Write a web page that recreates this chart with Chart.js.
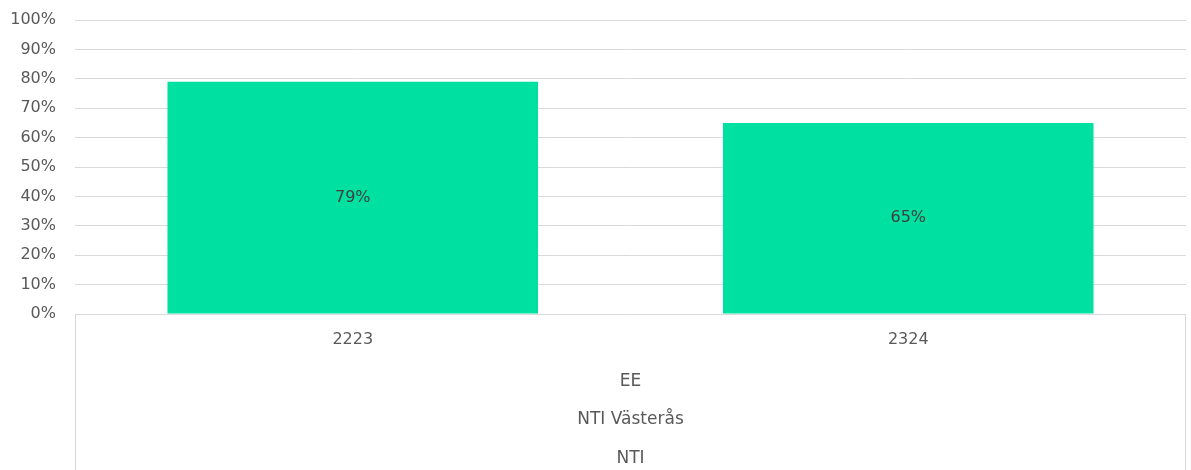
<!DOCTYPE html>
<html lang="en">
<head>
    <meta charset="UTF-8">
    <title>EE NTI Västerås</title>
    <script src="https://cdn.jsdelivr.net/npm/chart.js"></script>
    <style>
        html, body {
            margin: 0;
            padding: 0;
            background: #ffffff;
        }
        .wrap {
            width: 1191px;
            height: 470px;
        }
    </style>
</head>
<body>
    <div class="wrap">
        <canvas id="chart"></canvas>
    </div>

    <script>
        // data
        let years = ['2223', '2324'];
        let shares = [79, 65];
        let groupLabels = [['EE', 'NTI Västerås', 'NTI']];
        let yTicks = [0, 10, 20, 30, 40, 50, 60, 70, 80, 90, 100];

        let font = "'DejaVu Sans', sans-serif";
        let gridColor = '#d9d9d9';
        let textColor = '#595959';

        // value labels in the middle of each bar
        let barLabels = {
            id: 'barLabels',
            afterDatasetsDraw(chart) {
                let ctx = chart.ctx;
                let meta = chart.getDatasetMeta(0);
                ctx.save();
                ctx.font = '16px ' + font;
                ctx.fillStyle = '#404040';
                ctx.textAlign = 'center';
                ctx.textBaseline = 'middle';
                meta.data.forEach((bar, i) => {
                    ctx.fillText(shares[i] + '%', bar.x, (bar.y + bar.base) / 2);
                });
                ctx.restore();
            }
        };

        // side lines of the category box below the plot
        let categoryBox = {
            id: 'categoryBox',
            afterDraw(chart) {
                let ctx = chart.ctx;
                let area = chart.chartArea;
                ctx.save();
                ctx.strokeStyle = gridColor;
                ctx.lineWidth = 1;
                ctx.beginPath();
                ctx.moveTo(area.left + 0.5, area.bottom);
                ctx.lineTo(area.left + 0.5, chart.height);
                ctx.moveTo(area.right - 0.5, area.bottom);
                ctx.lineTo(area.right - 0.5, chart.height);
                ctx.stroke();
                ctx.restore();
            }
        };

        let ctx = document.getElementById('chart').getContext('2d');
        let chart = new Chart(ctx, {
            type: 'bar',
            data: {
                labels: years,
                datasets: [{
                    data: shares,
                    backgroundColor: '#00e0a0',
                    categoryPercentage: 1,
                    barPercentage: 0.667,
                    xAxisID: 'x',
                    yAxisID: 'y'
                }]
            },
            options: {
                responsive: true,
                maintainAspectRatio: false,
                animation: false,
                layout: { padding: { top: 20, right: 5, left: 0, bottom: 0 } },
                plugins: {
                    legend: { display: false },
                    tooltip: { enabled: false }
                },
                scales: {
                    y: {
                        min: 0,
                        max: 100,
                        afterFit(scale) { scale.width = 75; },
                        afterBuildTicks(scale) { scale.ticks = yTicks.map(v => ({ value: v })); },
                        ticks: {
                            padding: 0,
                            color: textColor,
                            font: { family: font, size: 16 },
                            callback: v => v + '%'
                        },
                        grid: { color: gridColor, drawTicks: true, tickLength: 19, tickColor: 'rgba(0,0,0,0)' },
                        border: { display: false }
                    },
                    x: {
                        weight: 0,
                        afterFit(scale) { scale.height = 44; },
                        ticks: {
                            padding: 16,
                            color: textColor,
                            font: { family: font, size: 16 }
                        },
                        grid: { display: false, drawTicks: false },
                        border: { display: false }
                    },
                    x2: {
                        type: 'category',
                        position: 'bottom',
                        weight: 1,
                        labels: groupLabels,
                        afterFit(scale) { scale.height = 112; },
                        ticks: {
                            padding: 4,
                            color: textColor,
                            font: { family: font, size: 17, lineHeight: 38.5 / 17 }
                        },
                        grid: { display: false, drawTicks: false },
                        border: { display: false }
                    }
                }
            },
            plugins: [barLabels, categoryBox]
        });
    </script>
</body>
</html>
